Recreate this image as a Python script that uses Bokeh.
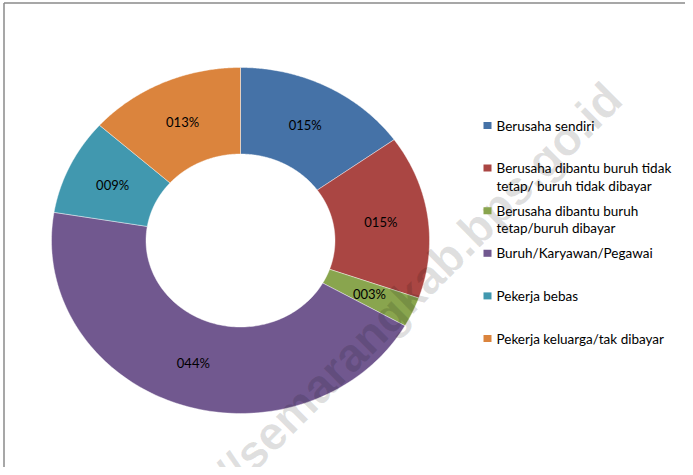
import numpy as np
from bokeh.plotting import figure
from bokeh.models import Range1d
from bokeh.core.properties import value
from bokeh.embed import file_html
from bokeh.resources import INLINE

# ---- data ----
categories = [
    "Berusaha sendiri",
    "Berusaha dibantu buruh tidak\ntetap/ buruh tidak dibayar",
    "Berusaha dibantu buruh\ntetap/buruh dibayar",
    "Buruh/Karyawan/Pegawai",
    "Pekerja bebas",
    "Pekerja keluarga/tak dibayar",
]
shares = [15.1, 15.3, 2.8, 44.4, 9.0, 13.4]
colors = ["#4572A7", "#AA4643", "#89A54E", "#71588F", "#4198AF", "#DB843D"]
watermark = "http://semarangkab.bps.go.id"

# ---- layout constants (pixel coordinates) ----
W, H = 685, 467
cx, cy = 240, 240
rx, ry = 189, 173
hole = 0.5

p = figure(width=W, height=H, output_backend="svg", toolbar_location=None,
           x_range=Range1d(0, W), y_range=Range1d(H, 0),
           min_border=0)
p.axis.visible = False
p.grid.visible = False
p.outline_line_color = None
p.background_fill_color = "white"
p.border_fill_color = "white"

# frame lines of the original chart area
p.segment(x0=[3.5, 3.5], y0=[2.5, 2.5], x1=[3.5, W], y1=[H, 2.5],
          line_color="#8a8a8a", line_width=1.5)

vals = np.array(shares, dtype=float)
frac = vals / vals.sum()
ends = np.cumsum(frac)
starts = ends - frac

xs, ys = [], []
for s, e in zip(starts, ends):
    t = np.linspace(s, e, 120) * 2 * np.pi
    ox = cx + rx * np.sin(t)
    oy = cy - ry * np.cos(t)
    ix = cx + hole * rx * np.sin(t[::-1])
    iy = cy - hole * ry * np.cos(t[::-1])
    xs.append(np.concatenate([ox, ix]).tolist())
    ys.append(np.concatenate([oy, iy]).tolist())

p.patches(xs=xs, ys=ys, fill_color=colors, line_color="white", line_width=0.6,
          line_alpha=0.7)

# watermark
p.text(x=[613], y=[90], text=[watermark], angle=np.pi / 4,
       text_font=value("Liberation Sans"), text_font_style="bold",
       text_font_size="47px", text_color="black", text_alpha=0.12,
       text_align="right", text_baseline="alphabetic")

# data labels
mid = (starts + ends) / 2 * 2 * np.pi
rl = (1 + hole) / 2
lab_x = cx + rl * rx * np.sin(mid)
lab_y = cy - rl * ry * np.cos(mid)
labels = [f"{round(v):03d}%" for v in vals]
p.text(x=lab_x, y=lab_y, text=labels, text_font=value("Lato"),
       text_font_size="13px", text_color="black", text_align="center",
       text_baseline="middle")

# legend
lx, ly0, ldy = 487, 125, 42.6
sq_y = [ly0 + i * ldy for i in range(len(categories))]
p.rect(x=[lx] * len(categories), y=sq_y, width=8, height=7,
       fill_color=colors, line_color=None)
tx, ty, tt = [], [], []
for yy, name in zip(sq_y, categories):
    for k, line in enumerate(name.split("\n")):
        tx.append(lx + 9)
        ty.append(yy + k * 17.5)
        tt.append(line)
p.text(x=tx, y=ty, text=tt, text_font=value("Lato"), text_font_size="13.5px",
       text_color="black", text_align="left", text_baseline="middle")

open("out.html", "w").write(file_html(p, INLINE))
